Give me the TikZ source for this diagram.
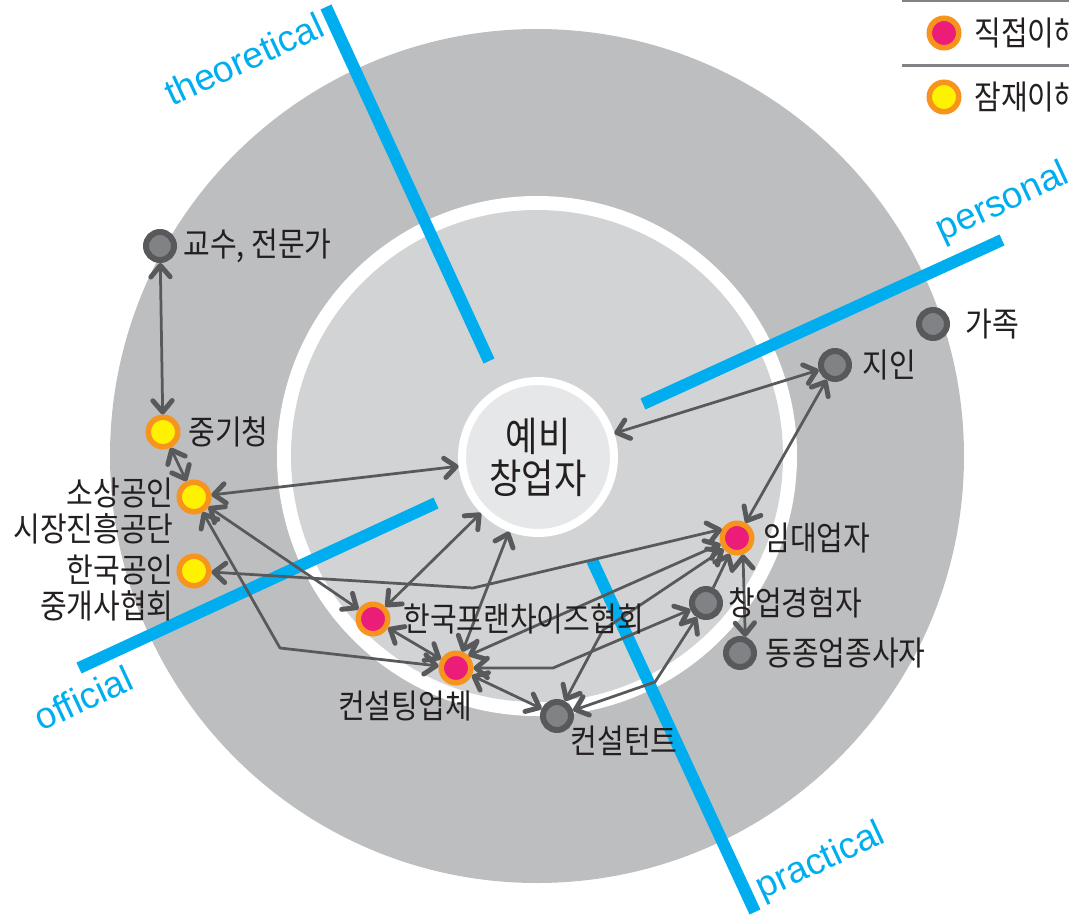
\documentclass[tikz,border=0pt]{standalone}
\usepackage{fontspec}
\newfontfamily\krfont[FakeStretch=0.87]{Noto Sans CJK KR}
\newfontfamily\axisfont{Liberation Sans}
\usetikzlibrary{arrows.meta}
\usetikzlibrary{positioning}

\definecolor{outergray}{HTML}{BCBEC0}
\definecolor{innergray}{HTML}{D1D3D4}
\definecolor{coregray}{HTML}{E6E7E8}
\definecolor{dotgray}{HTML}{808285}
\definecolor{rimgray}{HTML}{58595B}
\definecolor{linkgray}{HTML}{58595B}
\definecolor{axisblue}{HTML}{00AEEF}
\definecolor{ringorange}{HTML}{F7941D}
\definecolor{dotyellow}{HTML}{FFF200}
\definecolor{dotpink}{HTML}{EC1C79}
\definecolor{txt}{HTML}{231F20}

\tikzset{
  >={Straight Barb[length=6.5pt,width=11pt,line width'=2.8pt,round]},
  link/.style={draw=linkgray,line width=0.055cm,line join=round,<->},
  lbl/.style={text=txt,font=\krfont\fontsize{19}{20}\selectfont,inner sep=0pt},
  axisbar/.style={draw=axisblue,line width=0.24cm},
  axislbl/.style={text=axisblue,font=\axisfont\fontsize{21}{21}\selectfont,rotate=25,inner sep=0pt},
}

\begin{document}
\begin{tikzpicture}[x=0.02cm,y=-0.02cm]
        \useasboundingbox (0,0) rectangle (1069,916);
        \clip (0,0) rectangle (1069,916);
        % rings
        \fill[outergray] (537,456) circle (427);
        \fill[white] (537,456) circle (260);
        \fill[innergray] (537,456) circle (246);
        % axes
        \draw[axisbar] (326,7) -- (489,361);
        \draw[axisbar] (643,404) -- (1002,240);
        \draw[axisbar] (79,668) -- (436,503);
        \draw[axisbar] (592,560) -- (755,912);
        \node[axislbl] (theo) at (244,59) {theoretical};
        \node[axislbl] (pers) at (1003,203) {personal};
        \node[axislbl] (offi) at (83,698) {official};
        \node[axislbl] (prac) at (821,862) {practical};
        % legend
        \draw[dotgray,line width=0.06cm] (902,1) -- (1069,1);
        \draw[dotgray,line width=0.06cm] (902,65) -- (1069,65);
        % center
        \node[circle,fill=coregray,draw=white,line width=0.16cm,minimum size=3.04cm,
              align=center,text=txt,font=\krfont\fontsize{23}{24}\selectfont] (core) at (538,457) {예비\\창업자};
        \begin{scope}[every node/.style={circle,draw=rimgray,fill=dotgray,line width=0.12cm,minimum size=0.56cm,inner sep=0pt}]
        \node (kyosu) at (160,246) {};
        \node (family) at (933,324) {};
        \node (jiin) at (835,365) {};
        \node (startexp) at (706,603) {};
        \node (sameind) at (740,653) {};
        \node (consultant) at (557,716) {};
        \end{scope}
        \begin{scope}[every node/.style={circle,draw=ringorange,fill=dotyellow,line width=0.11cm,minimum size=0.59cm,inner sep=0pt}]
        \node (junggi) at (163,432) {};
        \node (sosang) at (194,497) {};
        \node (realtor) at (194,571) {};
        \node (leg-latent) at (944,97) {};
        \end{scope}
        \begin{scope}[every node/.style={circle,draw=ringorange,fill=dotpink,line width=0.11cm,minimum size=0.59cm,inner sep=0pt}]
        \node (franchise) at (373,619) {};
        \node (consulting) at (456,668) {};
        \node (landlord) at (737,538) {};
        \node (leg-direct) at (944,33) {};
        \end{scope}
        % links
        \begin{scope}[every edge/.style={link}]
        \path (kyosu) edge (junggi);
        \path (junggi) edge (sosang);
        \path (sosang) edge (core);
        \path (core) edge (jiin);
        \path (jiin) edge (landlord);
        \path (sosang) edge (franchise);
        \path (core) edge (franchise);
        \path (core) edge (consulting);
        \path (franchise) edge (consulting);
        \path (consulting.45) edge (landlord.200);
        \path (consulting) edge (consultant);
        \path (landlord.290) edge (sameind.72);
        \path (startexp) edge[->] (landlord);
        \end{scope}
        \coordinate (kink1) at (280,648);
        \coordinate (kink2) at (473,588);
        \coordinate (kink3) at (553,668);
        \coordinate (kink4) at (655,682);
        \coordinate (kink5) at (603,630);
        \draw[link] (sosang) -- (kink1) -- (consulting);
        \draw[link] (realtor) -- (kink2) -- (landlord.150);
        \draw[link] (consulting) -- (kink3) -- (startexp);
        \draw[link] (consultant) -- (kink4) -- (startexp);
        \draw[link] (consultant) -- (kink5) -- (landlord.220);
        % labels
        \node[lbl,right=0.12cm of kyosu] (kyosu-l) {교수, 전문가};
        \node[lbl,right=0.15cm of junggi] (junggi-l) {중기청};
        \node[lbl,align=right,left=0.05cm of sosang,yshift=-0.28cm] (sosang-l) {소상공인\\시장진흥공단};
        \node[lbl,align=right,left=0.05cm of realtor,yshift=-0.34cm] (realtor-l) {한국공인\\중개사협회};
        \node[lbl,right=0.25cm of franchise] (franchise-l) {한국프랜차이즈협회};
        \node[lbl] (consulting-l) at (405,706) {컨설팅업체};
        \node[lbl] (consultant-l) at (624,741) {컨설턴트};
        \node[lbl,right=0.1cm of startexp] (startexp-l) {창업경험자};
        \node[lbl,right=0.16cm of sameind] (sameind-l) {동종업종사자};
        \node[lbl,right=0.17cm of landlord] (landlord-l) {임대업자};
        \node[lbl,right=0.2cm of jiin] (jiin-l) {지인};
        \node[lbl,right=0.3cm of family] (family-l) {가족};
        \node[lbl,right=0.25cm of leg-direct] (direct-l) {직접이해};
        \node[lbl,right=0.25cm of leg-latent] (latent-l) {잠재이해};
\end{tikzpicture}
\end{document}
